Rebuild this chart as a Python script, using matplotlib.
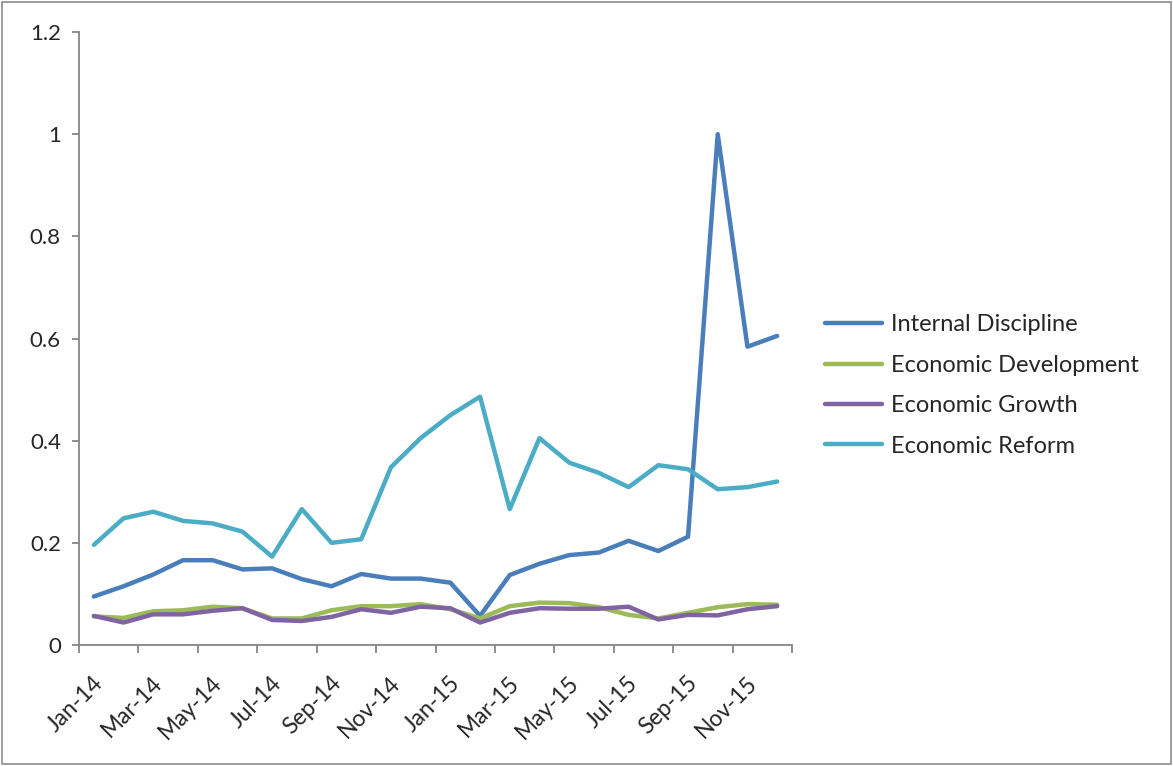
import matplotlib
matplotlib.use("Agg")
import matplotlib.pyplot as plt
from matplotlib.patches import Rectangle
from matplotlib.transforms import ScaledTranslation

months = ["Jan-14", "Feb-14", "Mar-14", "Apr-14", "May-14", "Jun-14", "Jul-14", "Aug-14",
          "Sep-14", "Oct-14", "Nov-14", "Dec-14", "Jan-15", "Feb-15", "Mar-15", "Apr-15",
          "May-15", "Jun-15", "Jul-15", "Aug-15", "Sep-15", "Oct-15", "Nov-15", "Dec-15"]

internal_discipline = [0.095, 0.115, 0.138, 0.166, 0.166, 0.148, 0.150, 0.129, 0.115, 0.139,
                       0.130, 0.130, 0.122, 0.057, 0.137, 0.159, 0.176, 0.181, 0.204, 0.184,
                       0.212, 1.000, 0.584, 0.605]
economic_development = [0.056, 0.053, 0.066, 0.068, 0.075, 0.072, 0.052, 0.052, 0.068, 0.076,
                        0.076, 0.080, 0.070, 0.052, 0.076, 0.083, 0.082, 0.074, 0.059, 0.052,
                        0.063, 0.074, 0.080, 0.079]
economic_growth = [0.057, 0.044, 0.060, 0.060, 0.067, 0.072, 0.049, 0.047, 0.055, 0.070,
                   0.063, 0.075, 0.072, 0.044, 0.063, 0.072, 0.071, 0.071, 0.075, 0.050,
                   0.059, 0.058, 0.070, 0.076]
economic_reform = [0.196, 0.248, 0.261, 0.243, 0.238, 0.222, 0.173, 0.266, 0.200, 0.207,
                   0.348, 0.405, 0.450, 0.486, 0.266, 0.405, 0.357, 0.337, 0.309, 0.352,
                   0.344, 0.305, 0.309, 0.320]

series_names = ["Internal Discipline", "Economic Development", "Economic Growth", "Economic Reform"]
series_values = [internal_discipline, economic_development, economic_growth, economic_reform]
colors = ["#4A7EBB", "#9BBB59", "#8064A2", "#4BACC6"]

y_ticks = [0, 0.2, 0.4, 0.6, 0.8, 1.0, 1.2]
y_tick_labels = ["0", "0.2", "0.4", "0.6", "0.8", "1", "1.2"]

plt.rcParams['font.family'] = ['Lato', 'DejaVu Sans']
FS = 16
TXT = "#262626"

fig = plt.figure(figsize=(11.73, 7.66), dpi=100)
ax = fig.add_axes([79/1173, 1 - 645/766, (792 - 79)/1173, (645 - 32)/766])

x = list(range(len(months)))
for name, vals, c in zip(series_names, series_values, colors):
    ax.plot(x, vals, color=c, lw=3.2, label=name, solid_joinstyle='round', solid_capstyle='round')

ax.set_xlim(-0.5, len(months) - 0.5)
ax.set_ylim(0, 1.2)

spine_c = "#868686"
for s in ["top", "right"]:
    ax.spines[s].set_visible(False)
for s in ["left", "bottom"]:
    ax.spines[s].set_color(spine_c)
    ax.spines[s].set_linewidth(1.3)

ax.set_yticks(y_ticks)
ax.set_yticklabels(y_tick_labels)
ax.tick_params(axis='y', direction='out', length=5, width=1.3, color=spine_c,
               labelsize=FS, labelcolor=TXT, pad=8)

major_x = [i - 0.5 for i in range(0, len(months) + 1, 2)]
ax.set_xticks(major_x)
ax.set_xticklabels([])
ax.tick_params(axis='x', which='major', direction='out', length=6, width=1.3, color=spine_c)
ax.set_xticks(x[::2], minor=True)
ax.set_xticklabels(months[::2], minor=True, rotation=45, ha='right', va='center',
                   rotation_mode='anchor')
ax.tick_params(axis='x', which='minor', length=0, labelsize=16.5, labelcolor=TXT, pad=25)
shift = ScaledTranslation(6/100, 0, fig.dpi_scale_trans)
for lbl in ax.get_xticklabels(minor=True):
    lbl.set_transform(lbl.get_transform() + shift)

leg = fig.legend(loc='center left', bbox_to_anchor=(825/1173, 1 - 385.5/766), frameon=False,
                 fontsize=17, handlelength=2.4, handletextpad=0.4, labelspacing=0.82,
                 borderpad=0, borderaxespad=0)
for t in leg.get_texts():
    t.set_color(TXT)

fig.patches.append(Rectangle((0.002, 0.002), 0.996, 0.996, transform=fig.transFigure,
                             fill=False, edgecolor="#8C8C8C", lw=1.2))

fig.savefig("out.png", dpi=100)
